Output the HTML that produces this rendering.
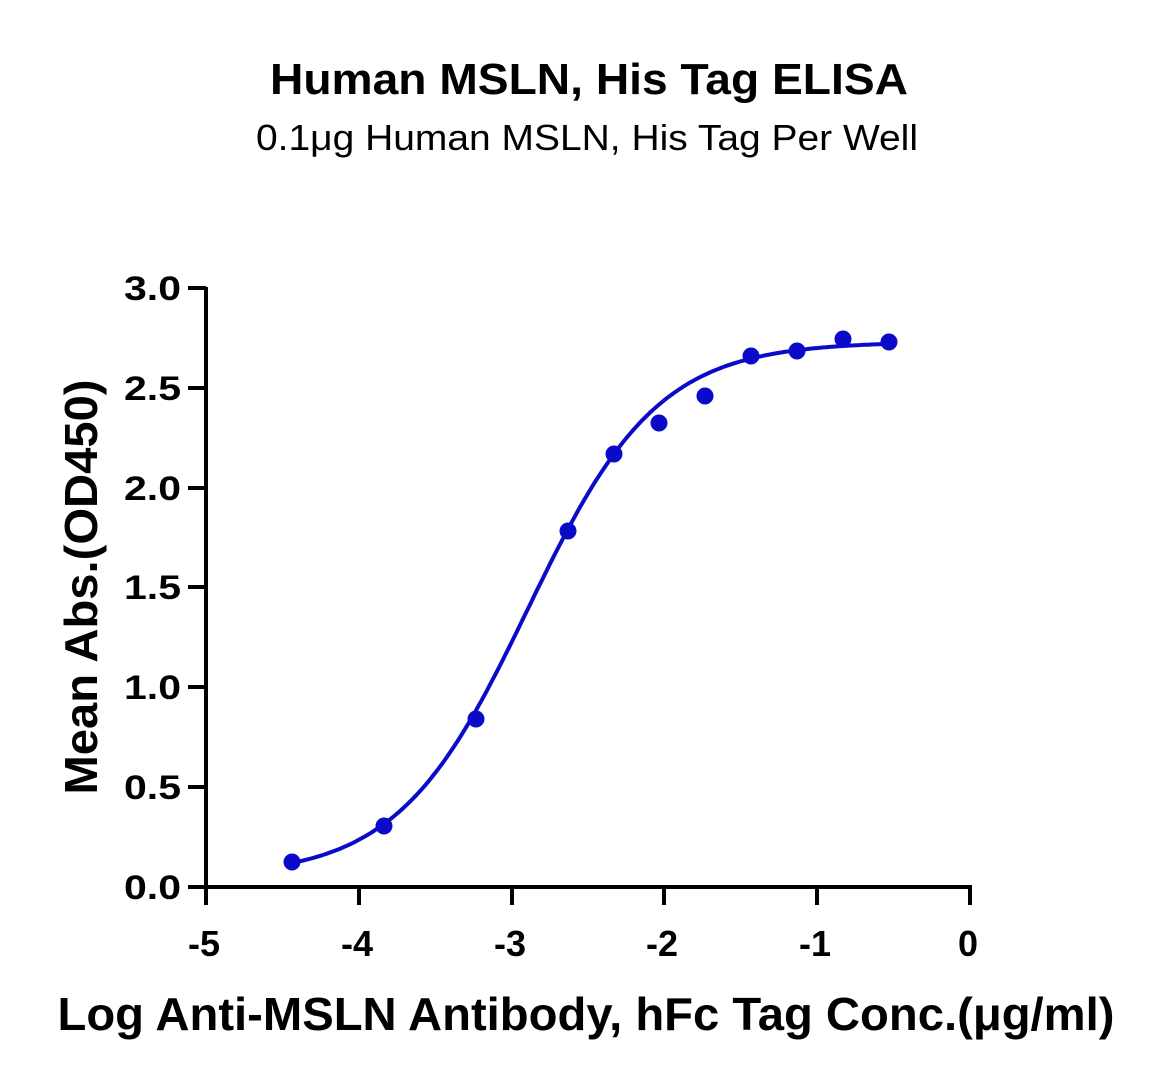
<!DOCTYPE html>
<html><head><style>
body{margin:0;background:#fff;}
svg text{font-family:"Liberation Sans",sans-serif;}
</style></head><body>
<svg width="1163" height="1086" viewBox="0 0 1163 1086" xmlns="http://www.w3.org/2000/svg">
<text x="589" y="94" text-anchor="middle" font-size="44" font-weight="bold" textLength="638" lengthAdjust="spacingAndGlyphs">Human MSLN, His Tag ELISA</text>
<text x="587" y="150" text-anchor="middle" font-size="36" textLength="662" lengthAdjust="spacingAndGlyphs">0.1μg Human MSLN, His Tag Per Well</text>
<g stroke="#000" stroke-width="4" fill="none">
<line x1="206" y1="287" x2="206" y2="889"/>
<line x1="188" y1="887" x2="972" y2="887"/>
<line x1="188" y1="288" x2="206" y2="288"/>
<line x1="188" y1="388" x2="206" y2="388"/>
<line x1="188" y1="488" x2="206" y2="488"/>
<line x1="188" y1="587" x2="206" y2="587"/>
<line x1="188" y1="687" x2="206" y2="687"/>
<line x1="188" y1="787" x2="206" y2="787"/>
<line x1="206" y1="887" x2="206" y2="905"/>
<line x1="359" y1="887" x2="359" y2="905"/>
<line x1="512" y1="887" x2="512" y2="905"/>
<line x1="664" y1="887" x2="664" y2="905"/>
<line x1="817" y1="887" x2="817" y2="905"/>
<line x1="970" y1="887" x2="970" y2="905"/>
</g>
<g font-size="34" font-weight="bold" text-anchor="end">
<text x="181" y="300" textLength="57" lengthAdjust="spacingAndGlyphs">3.0</text>
<text x="181" y="400" textLength="57" lengthAdjust="spacingAndGlyphs">2.5</text>
<text x="181" y="500" textLength="57" lengthAdjust="spacingAndGlyphs">2.0</text>
<text x="181" y="599" textLength="57" lengthAdjust="spacingAndGlyphs">1.5</text>
<text x="181" y="699" textLength="57" lengthAdjust="spacingAndGlyphs">1.0</text>
<text x="181" y="799" textLength="57" lengthAdjust="spacingAndGlyphs">0.5</text>
<text x="181" y="899" textLength="57" lengthAdjust="spacingAndGlyphs">0.0</text>
</g>
<g font-size="36" font-weight="bold" text-anchor="middle">
<text x="204" y="956">-5</text>
<text x="357" y="956">-4</text>
<text x="510" y="956">-3</text>
<text x="662" y="956">-2</text>
<text x="815" y="956">-1</text>
<text x="968" y="956">0</text>
</g>
<text transform="translate(97,587) rotate(-90)" text-anchor="middle" font-size="46" font-weight="900" textLength="415" lengthAdjust="spacingAndGlyphs">Mean Abs.(OD450)</text>
<text x="586" y="1030" text-anchor="middle" font-size="46" font-weight="900" textLength="1057" lengthAdjust="spacingAndGlyphs">Log Anti-MSLN Antibody, hFc Tag Conc.(μg/ml)</text>
<path id="curve" fill="none" stroke="#0a0ac8" stroke-width="4"/>
<g fill="#0a0ac8">
<circle cx="292" cy="862" r="8.5"/><circle cx="384" cy="826" r="8.5"/><circle cx="476" cy="719" r="8.5"/>
<circle cx="568" cy="531" r="8.5"/><circle cx="614" cy="454" r="8.5"/><circle cx="659" cy="423" r="8.5"/>
<circle cx="705" cy="396" r="8.5"/><circle cx="751" cy="356" r="8.5"/><circle cx="797" cy="351" r="8.5"/>
<circle cx="843" cy="339" r="8.5"/><circle cx="889" cy="342" r="8.5"/>
</g>
</svg>
<script>
var d="";for(var i=0;i<=200;i++){var x=-4.43+i*(3.9/200);var y=0.05+2.68/(1+Math.pow(10,(-2.895-x)*1.02));
var px=206+(x+5)*152.8,py=887-y*199.7;d+=(i?"L":"M")+px.toFixed(1)+","+py.toFixed(1);}
document.getElementById("curve").setAttribute("d",d);
</script>
</body></html>
